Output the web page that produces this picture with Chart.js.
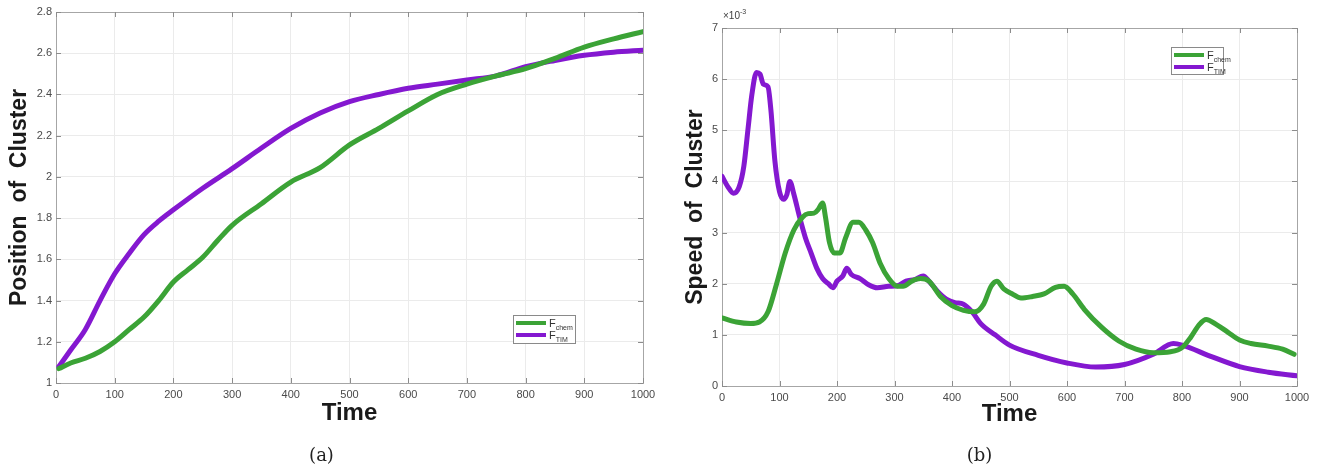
<!DOCTYPE html>
<html><head><meta charset="utf-8">
<script src="https://cdn.jsdelivr.net/npm/chart.js@4/dist/chart.umd.min.js"></script>
<style>
html,body{margin:0;padding:0;background:#fff;}
#wrap{position:relative;width:1324px;height:467px;overflow:hidden;}
.c{position:absolute;top:0;width:662px;height:467px;}
</style></head><body>
<div id="wrap">
<div class="c" style="left:0"><canvas id="a" width="662" height="467"></canvas></div>
<div class="c" style="left:662px"><canvas id="b" width="662" height="467"></canvas></div>
</div>
<script>
// ---------- DATA ----------
// (a) Position of cluster
const posChemTime = [5,25,50,75,100,125,150,175,200,225,250,275,300,350,400,450,500,550,600,650,700,750,800,850,900,950,1000];
const posChemVal  = [1.07,1.097,1.12,1.153,1.20,1.26,1.32,1.40,1.49,1.55,1.61,1.69,1.765,1.87,1.975,2.045,2.155,2.235,2.32,2.40,2.45,2.49,2.525,2.575,2.63,2.67,2.705];
const posTimTime  = [5,25,50,75,100,125,150,175,200,250,300,350,400,450,500,550,600,650,700,750,800,850,900,950,1000];
const posTimVal   = [1.08,1.16,1.26,1.40,1.53,1.63,1.72,1.785,1.84,1.945,2.04,2.14,2.235,2.31,2.365,2.40,2.43,2.45,2.47,2.49,2.535,2.565,2.59,2.605,2.615];

// (b) Speed of cluster, in units of 10^-3
const spdChemTime = [0,25,50,65,80,95,110,125,140,150,160,167,175,180,187,195,205,215,228,238,250,262,275,290,305,315,330,345,360,380,400,420,440,455,468,478,490,505,520,540,560,580,595,610,630,660,690,720,750,780,800,815,830,842,860,880,900,920,950,975,995];
const spdChemVal  = [1.33,1.25,1.22,1.25,1.45,2.0,2.6,3.05,3.3,3.37,3.38,3.45,3.58,3.3,2.8,2.6,2.6,2.9,3.2,3.2,3.05,2.8,2.4,2.1,1.95,1.95,2.05,2.1,2.05,1.75,1.57,1.48,1.45,1.6,1.95,2.05,1.9,1.8,1.72,1.75,1.8,1.93,1.95,1.8,1.5,1.15,0.88,0.72,0.65,0.67,0.75,0.95,1.2,1.3,1.2,1.05,0.9,0.83,0.78,0.72,0.62];
const spdTimTime  = [0,10,20,30,38,45,52,60,66,72,80,85,92,100,107,113,118,125,135,145,155,165,175,185,193,200,210,217,225,240,255,270,290,305,320,335,350,360,375,390,405,420,435,450,475,500,550,600,650,700,750,785,800,850,900,950,1000];
const spdTimVal   = [4.1,3.9,3.77,3.9,4.3,5.0,5.7,6.13,6.1,5.9,5.85,5.4,4.4,3.8,3.65,3.75,4.0,3.75,3.3,2.9,2.6,2.3,2.1,2.0,1.92,2.05,2.15,2.3,2.18,2.1,1.98,1.92,1.95,1.96,2.05,2.08,2.15,2.05,1.85,1.7,1.63,1.6,1.45,1.22,1.0,0.8,0.6,0.45,0.37,0.42,0.62,0.83,0.8,0.58,0.38,0.27,0.2];

// Tick labels
const xTicks  = [0,100,200,300,400,500,600,700,800,900,1000];
const yTicksA = [1,1.2,1.4,1.6,1.8,2,2.2,2.4,2.6,2.8];
const yTicksB = [0,1,2,3,4,5,6,7];

// Series names [base, subscript]
const nameChem = ['F','chem'];
const nameTim  = ['F','TIM'];

// Text
const yTitleA = 'Position  of  Cluster';
const yTitleB = 'Speed  of  Cluster';
const xTitle  = 'Time';
const captionA = '(a)';
const captionB = '(b)';
const expLabel = ['\u00d710','-3'];

// ---------- STYLE ----------
const GREEN = '#3ba336';
const PURPLE = '#8418d0';
const SANS = "'Liberation Sans', Arial, Helvetica, sans-serif";

const pts = (t, v) => t.map((x, i) => ({x, y: v[i]}));

const framePlugin = {
  id: 'frame',
  beforeDatasetsDraw(chart) {
    const {ctx, chartArea: ca} = chart;
    ctx.save();
    ctx.strokeStyle = '#a6a6a6';
    ctx.lineWidth = 1;
    ctx.strokeRect(Math.round(ca.left) + 0.5, Math.round(ca.top) + 0.5, Math.round(ca.right - ca.left), Math.round(ca.bottom - ca.top));
    ctx.strokeStyle = '#8c8c8c';
    const xs = chart.scales.x, ys = chart.scales.y;
    ctx.beginPath();
    xs.ticks.forEach(t => {
      const px = Math.round(xs.getPixelForValue(t.value)) + 0.5;
      ctx.moveTo(px, ca.bottom); ctx.lineTo(px, ca.bottom - 5);
      ctx.moveTo(px, ca.top); ctx.lineTo(px, ca.top + 5);
    });
    ys.ticks.forEach(t => {
      const py = Math.round(ys.getPixelForValue(t.value)) + 0.5;
      ctx.moveTo(ca.left, py); ctx.lineTo(ca.left + 5, py);
      ctx.moveTo(ca.right, py); ctx.lineTo(ca.right - 5, py);
    });
    ctx.stroke();
    ctx.restore();
  }
};

const legendPlugin = {
  id: 'mlegend',
  afterDatasetsDraw(chart, args, o) {
    const {ctx, chartArea: ca} = chart;
    const x0 = ca.right - o.fromRight - o.w;
    const y0 = o.fromBottom != null ? ca.bottom - o.fromBottom - o.h : ca.top + o.fromTop;
    ctx.save();
    ctx.fillStyle = '#fff';
    ctx.fillRect(x0, y0, o.w, o.h);
    ctx.strokeStyle = '#8a8a8a';
    ctx.lineWidth = 1;
    ctx.strokeRect(Math.round(x0) + 0.5, Math.round(y0) + 0.5, o.w, o.h);
    chart.data.datasets.forEach((ds, i) => {
      const yy = y0 + 8 + i * 12;
      ctx.strokeStyle = ds.borderColor;
      ctx.lineWidth = 4;
      ctx.beginPath();
      ctx.moveTo(x0 + 3, yy); ctx.lineTo(x0 + 33, yy);
      ctx.stroke();
      ctx.fillStyle = '#333';
      ctx.textBaseline = 'alphabetic';
      ctx.font = '11px ' + SANS;
      ctx.fillText(ds.nameParts[0], x0 + 36, yy + 4);
      const w = ctx.measureText(ds.nameParts[0]).width;
      ctx.font = '7px ' + SANS;
      ctx.fillText(ds.nameParts[1], x0 + 36 + w, yy + 6.5);
    });
    ctx.restore();
  }
};

const expPlugin = {
  id: 'expLabel',
  afterDraw(chart, args, o) {
    if (!o.show) return;
    const {ctx, chartArea: ca} = chart;
    ctx.save();
    ctx.fillStyle = '#404040';
    ctx.font = '10px ' + SANS;
    ctx.fillText(expLabel[0], ca.left + 1, ca.top - 9);
    const w = ctx.measureText(expLabel[0]).width;
    ctx.font = '7px ' + SANS;
    ctx.fillText(expLabel[1], ca.left + 1 + w, ca.top - 14);
    ctx.restore();
  }
};

function makeChart(id, cfg) {
  return new Chart(document.getElementById(id), {
    type: 'line',
    data: {
      datasets: [
        {label: 'Fchem', nameParts: nameChem, data: pts(cfg.chemT, cfg.chemV), borderColor: GREEN},
        {label: 'FTIM', nameParts: nameTim, data: pts(cfg.timT, cfg.timV), borderColor: PURPLE}
      ]
    },
    options: {
      responsive: false,
      animation: false,
      devicePixelRatio: 1,
      layout: {padding: {left: 0, top: cfg.padTop, right: cfg.padRight, bottom: 0}},
      elements: {
        line: {borderWidth: 5, cubicInterpolationMode: 'monotone', borderCapStyle: 'round', borderJoinStyle: 'round', fill: false},
        point: {radius: 0, hoverRadius: 0}
      },
      scales: {
        x: {
          type: 'linear', min: 0, max: 1000,
          afterBuildTicks: s => { s.ticks = xTicks.map(v => ({value: v})); },
          afterFit: s => { s.height = cfg.xH; },
          grid: {color: '#ebebeb', drawTicks: false},
          border: {display: false},
          ticks: {color: '#4a4a4a', font: {family: SANS, size: 11}, padding: 5, maxRotation: 0, autoSkip: false, callback: v => String(v)},
          title: {display: true, text: xTitle, color: '#1a1a1a', font: {family: SANS, size: 24, weight: 'bold'}, padding: {top: 0, bottom: cfg.xTitlePad}}
        },
        y: {
          type: 'linear', min: cfg.yMin, max: cfg.yMax,
          afterBuildTicks: s => { s.ticks = cfg.yTicks.map(v => ({value: v})); },
          afterFit: s => { s.width = cfg.yW; },
          grid: {color: '#ebebeb', drawTicks: false},
          border: {display: false},
          ticks: {color: '#4a4a4a', font: {family: SANS, size: 11}, padding: 4, autoSkip: false, callback: v => String(v)},
          title: {display: true, text: cfg.yTitle, color: '#1a1a1a', font: {family: SANS, size: 23, weight: 'bold'}, padding: {top: cfg.yTitlePad, bottom: 0}}
        }
      },
      plugins: {
        legend: {display: false},
        tooltip: {enabled: false},
        title: {display: true, position: 'bottom', text: cfg.caption, color: '#222', font: {family: "'DejaVu Serif', 'Liberation Serif', serif", size: 18, weight: 'normal'}, padding: {top: 0, bottom: 0}},
        mlegend: cfg.legend,
        expLabel: {show: cfg.exp}
      }
    },
    plugins: [framePlugin, legendPlugin, expPlugin]
  });
}

makeChart('a', {
  chemT: posChemTime, chemV: posChemVal, timT: posTimTime, timV: posTimVal,
  yMin: 1, yMax: 2.8, yTicks: yTicksA, yTitle: yTitleA, caption: captionA,
  padTop: 12, padRight: 19, xH: 62.4, yW: 56, xTitlePad: 18, yTitlePad: 6,
  legend: {w: 62, h: 28, fromRight: 68, fromBottom: 40}, exp: false
});
makeChart('b', {
  chemT: spdChemTime, chemV: spdChemVal, timT: spdTimTime, timV: spdTimVal,
  yMin: 0, yMax: 7, yTicks: yTicksB, yTitle: yTitleB, caption: captionB,
  padTop: 28, padRight: 27, xH: 59.4, yW: 60, xTitlePad: 17, yTitlePad: 20,
  legend: {w: 52, h: 27, fromRight: 74, fromTop: 19}, exp: true
});
</script>
</body></html>
